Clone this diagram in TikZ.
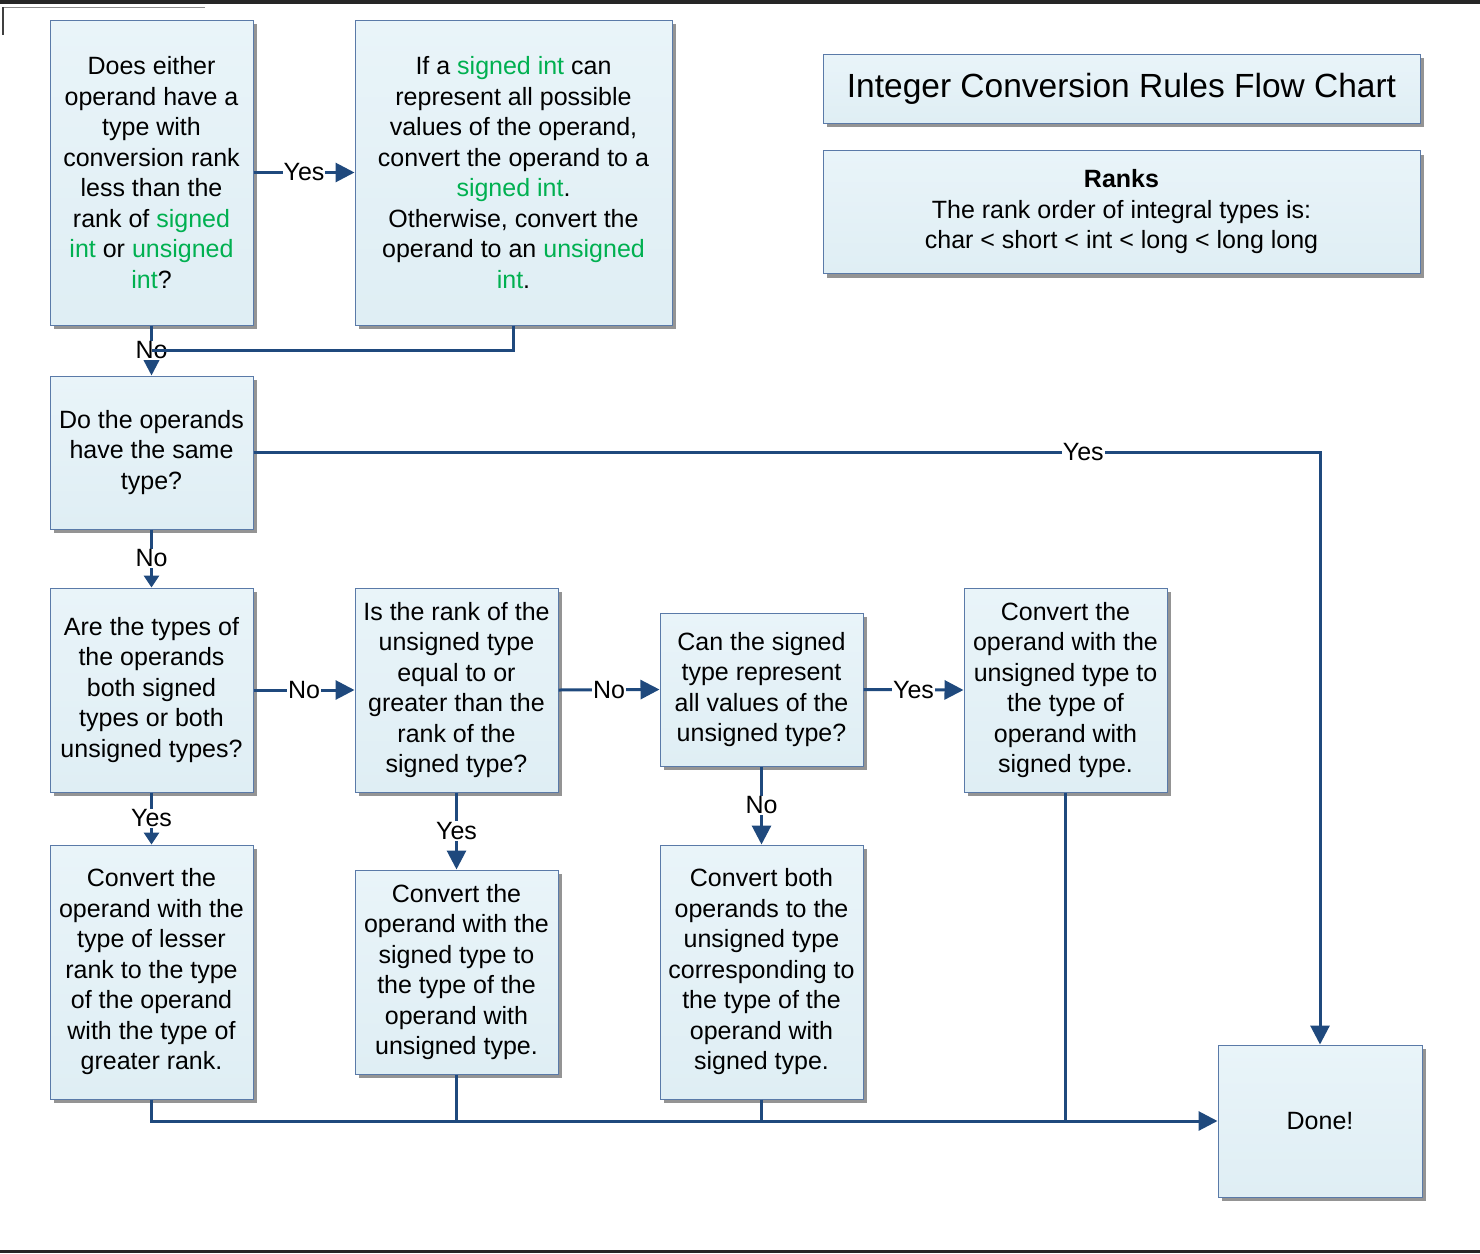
\documentclass[tikz,border=0pt]{standalone}
\usepackage{fontspec}
\setmainfont{Liberation Sans}
\usetikzlibrary{shadows,arrows.meta}
\definecolor{boxtop}{HTML}{E9F4F9}
\definecolor{boxbot}{HTML}{DFEEF4}
\definecolor{boxline}{HTML}{5A7AA8}
\definecolor{connc}{HTML}{1F497D}
\definecolor{grn}{HTML}{00B050}
\newcommand{\gr}[1]{\textcolor{grn}{#1}}
\tikzset{
  fbox/.style={draw=boxline, line width=1pt, top color=boxtop, bottom color=boxbot,
    inner sep=0pt, align=center, font=\fontsize{25}{30.5}\selectfont,
    drop shadow={shadow xshift=4pt, shadow yshift=-4pt, fill=black!42, opacity=1}},
  conn/.style={draw=connc, line width=3pt, -{Triangle[length=19pt,width=19pt]}},
  connsm/.style={draw=connc, line width=3pt, -{Triangle[length=12pt,width=15pt]}},
  plain/.style={draw=connc, line width=3pt},
  lbl/.style={fill=white, inner sep=1pt, font=\fontsize{25}{30}\selectfont, text=black}
}
\begin{document}
\begin{tikzpicture}[x=1pt,y=-1pt]
\useasboundingbox (0,0) rectangle (1480,1253);
% frame marks
\fill[black!85] (0,0) rectangle (1480,3.5);
\fill[black!85] (0,1250) rectangle (1480,1253);
\draw[black!45, line width=1pt] (3,7) -- (205,7);
\draw[black!75, line width=1.5pt] (3,7) -- (3,35);

% boxes
\node[fbox, minimum width=203pt, minimum height=305pt] (A) at (151.5,172.5)
 {Does either\\operand have a\\type with\\conversion rank\\less than the\\rank of \gr{signed}\\\gr{int} or \gr{unsigned}\\\gr{int}?};
\node[fbox, minimum width=317pt, minimum height=305pt] (B) at (513.5,172.5)
 {If a \gr{signed int} can\\represent all possible\\values of the operand,\\convert the operand to a\\\gr{signed int}.\\Otherwise, convert the\\operand to an \gr{unsigned}\\\gr{int}.};
\node[fbox, minimum width=597pt, minimum height=69pt, font=\fontsize{33.5}{40}\selectfont] (T) at (1121.5,88.5)
 {Integer Conversion Rules Flow Chart};
\node[fbox, minimum width=597pt, minimum height=123pt, font=\fontsize{25}{30.5}\selectfont] (R) at (1121.5,212)
 {\textbf{Ranks}\\The rank order of integral types is:\\char < short < int < long < long long};
\node[fbox, minimum width=203pt, minimum height=153pt] (C) at (151.5,452.5)
 {Do the operands\\have the same\\type?};
\node[fbox, minimum width=203pt, minimum height=204pt] (D) at (151.5,690)
 {Are the types of\\the operands\\both signed\\types or both\\unsigned types?};
\node[fbox, minimum width=203pt, minimum height=204pt] (E) at (456.5,690)
 {Is the rank of the\\unsigned type\\equal to or\\greater than the\\rank of the\\signed type?};
\node[fbox, minimum width=203pt, minimum height=153pt] (F) at (761.5,689.5)
 {Can the signed\\type represent\\all values of the\\unsigned type?};
\node[fbox, minimum width=203pt, minimum height=204pt] (G) at (1065.5,690)
 {Convert the\\operand with the\\unsigned type to\\the type of\\operand with\\signed type.};
\node[fbox, minimum width=203pt, minimum height=254pt] (H) at (151.5,972)
 {Convert the\\operand with the\\type of lesser\\rank to the type\\of the operand\\with the type of\\greater rank.};
\node[fbox, minimum width=203pt, minimum height=204pt] (I) at (456.5,972)
 {Convert the\\operand with the\\signed type to\\the type of the\\operand with\\unsigned type.};
\node[fbox, minimum width=203pt, minimum height=254pt] (J) at (761.5,972)
 {Convert both\\operands to the\\unsigned type\\corresponding to\\the type of the\\operand with\\signed type.};
\node[fbox, minimum width=204pt, minimum height=152pt] (Done) at (1320,1121)
 {Done!};

% connectors
\draw[conn] (A.east) -- node[lbl]{Yes} (B.west);
\draw[conn] (A.south) -- node[lbl]{No} (C.north);
\coordinate (j1) at (151.5,350);
\draw[plain] (B.south) |- (j1);
\coordinate (k1) at (Done.north |- C.east);
\draw[conn] (C.east) -- node[lbl,pos=0.778]{Yes} (k1) -- (Done.north);
\draw[connsm] (C.south) -- node[lbl]{No} (D.north);
\draw[conn] (D.east) -- node[lbl]{No} (E.west);
\draw[conn] (E.east) -- node[lbl]{No} (F.west);
\draw[conn] (F.east) -- node[lbl]{Yes} (G.west);
\draw[connsm] (D.south) -- node[lbl]{Yes} (H.north);
\draw[conn] (E.south) -- node[lbl]{Yes} (I.north);
\draw[conn] (F.south) -- node[lbl]{No} (J.north);
\coordinate (b1) at (H.south |- Done.west);
\coordinate (b2) at (I.south |- Done.west);
\coordinate (b3) at (J.south |- Done.west);
\coordinate (b4) at (G.south |- Done.west);
\draw[plain] (I.south) -- (b2);
\draw[plain] (J.south) -- (b3);
\draw[plain] (G.south) -- (b4);
\draw[conn] (H.south) -- (b1) -- (Done.west);
\end{tikzpicture}
\end{document}
